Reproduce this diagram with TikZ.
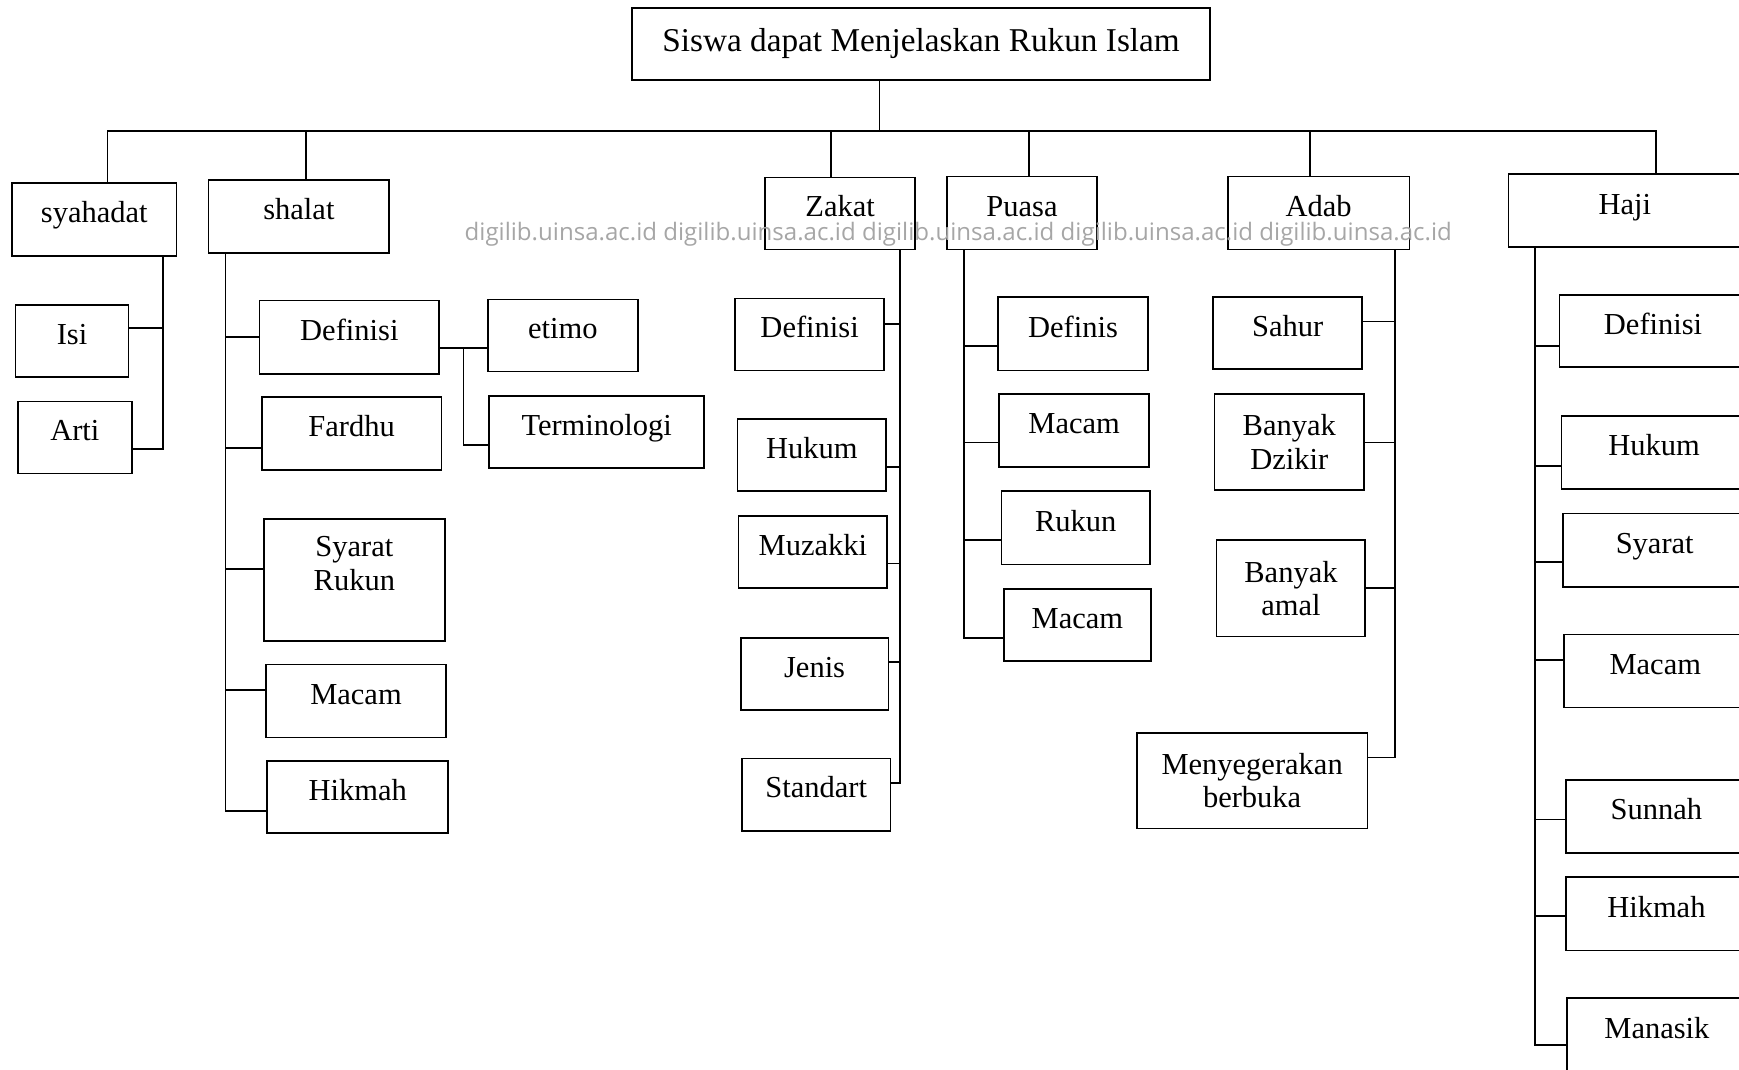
\documentclass[tikz,border=0pt]{standalone}
\usepackage{fontspec}
\setmainfont{Liberation Serif}
\newfontfamily\wmfont{Open Sans}

\begin{document}
\begin{tikzpicture}[x=1pt,y=-1pt,line width=1.5pt,
 box2/.style={draw,rectangle,inner sep=0pt,align=center,
   font=\fontsize{27.5}{30}\selectfont},
 box/.style={box2,text height=19pt,text depth=13pt},
 wm/.style={text=black!35,font=\wmfont\fontsize{21.7}{24}\selectfont}]

  \useasboundingbox (0,0) rectangle (1568,964);
  \clip (0,0) rectangle (1568,964);

  \node[box2,minimum width=521,minimum height=65,font=\fontsize{30}{34}\selectfont] (title) at (830.5,39.5) {Siswa dapat Menjelaskan Rukun Islam};

  % rukun
  \node[box,minimum width=148,minimum height=66] (syahadat) at (85,198) {syahadat};
  \node[box,minimum width=163,minimum height=66] (shalat) at (269.5,195) {shalat};
  \node[box,minimum width=135,minimum height=65] (zakat) at (757.5,192.5) {Zakat};
  \node[box,minimum width=135,minimum height=66] (puasa) at (921.5,192) {Puasa};
  \node[box,minimum width=164,minimum height=66] (adab) at (1189,192) {Adab};
  \node[box,minimum width=210,minimum height=66] (haji) at (1465,190) {Haji};

  % syahadat
  \node[box,minimum width=102,minimum height=65] (isi) at (65,307.5) {Isi};
  \node[box,minimum width=103,minimum height=65] (arti) at (67.5,394.5) {Arti};

  % shalat
  \node[box,minimum width=162,minimum height=66] (shDef) at (315,304) {Definisi};
  \node[box,minimum width=162,minimum height=66] (shFar) at (317,391) {Fardhu};
  \node[box2,minimum width=163,minimum height=110] (shSya) at (319.5,523) {Syarat\\Rukun\\\mbox{}};
  \node[box,minimum width=162,minimum height=66] (shMac) at (321,632) {Macam};
  \node[box,minimum width=163,minimum height=65] (shHik) at (322.5,718.5) {Hikmah};
  \node[box,minimum width=135,minimum height=65] (etimo) at (507.5,302.5) {etimo};
  \node[box,minimum width=194,minimum height=65] (termi) at (538,389.5) {Terminologi};

  % zakat
  \node[box,minimum width=134,minimum height=65] (zDef) at (730,301.5) {Definisi};
  \node[box,minimum width=134,minimum height=65] (zHuk) at (732,410.5) {Hukum};
  \node[box,minimum width=134,minimum height=65] (zMuz) at (733,497.5) {Muzakki};
  \node[box,minimum width=133,minimum height=65] (zJen) at (734.5,607.5) {Jenis};
  \node[box,minimum width=134,minimum height=65] (zSta) at (736,716.5) {Standart};

  % puasa
  \node[box,minimum width=135,minimum height=66] (pDef) at (967.5,301) {Definis};
  \node[box,minimum width=135,minimum height=66] (pMac) at (968.5,388) {Macam};
  \node[box,minimum width=134,minimum height=66] (pRuk) at (970,476) {Rukun};
  \node[box,minimum width=133,minimum height=65] (pMacb) at (971.5,563.5) {Macam};

  % adab
  \node[box,minimum width=134,minimum height=65] (aSah) at (1161,300.5) {Sahur};
  \node[box2,minimum width=135,minimum height=87] (aDzi) at (1162.5,398.5) {Banyak\\Dzikir};
  \node[box2,minimum width=134,minimum height=87] (aAma) at (1164,530.5) {Banyak\\amal};
  \node[box2,minimum width=208,minimum height=86] (aBuk) at (1129,704) {Menyegerakan\\berbuka};

  % haji
  \node[box,minimum width=169,minimum height=65] (hDef) at (1490.5,298.5) {Definisi};
  \node[box,minimum width=167,minimum height=66] (hHuk) at (1491.5,408) {Hukum};
  \node[box,minimum width=166,minimum height=66] (hSya) at (1492,496) {Syarat};
  \node[box,minimum width=165,minimum height=66] (hMac) at (1492.5,605) {Macam};
  \node[box,minimum width=163,minimum height=66] (hSun) at (1493.5,736) {Sunnah};
  \node[box,minimum width=163,minimum height=66] (hHik) at (1493.5,824) {Hikmah};
  \node[box,minimum width=162,minimum height=66] (hMan) at (1494,933) {Manasik};

  % lines
  \coordinate (bus) at (0,118);
  \draw ([xshift=-37.5pt]title.south) -- ([xshift=-37.5pt]title.south |- bus);
  \draw ([xshift=12pt]syahadat.north) |- ([xshift=28pt]haji.north |- bus) -- ([xshift=28pt]haji.north);
  \foreach \n/\dx in {shalat/6.5, zakat/-8.5, puasa/6.5, adab/-8}
    \draw ([xshift=\dx pt]\n.north) -- ([xshift=\dx pt]\n.north |- bus);

  \coordinate (syaSpine) at ([xshift=-13pt]syahadat.south east);
  \foreach \n/\y in {isi/296, arti/405}
    \draw (syaSpine) |- (\n.east |- 0,\y);

  \coordinate (shSpine) at ([xshift=16pt]shalat.south west);
  \foreach \n/\y in {shDef/304, shFar/404, shSya/513, shMac/622, shHik/731}
    \draw (shSpine) |- (\n.west |- 0,\y);
  \coordinate (defJoint) at (418,314);
  \draw (shDef.east |- defJoint) -- (etimo.west |- defJoint);
  \draw (defJoint) |- (termi.west |- 0,401);

  \coordinate (zSpine) at ([xshift=-14pt]zakat.south east);
  \foreach \n/\y in {zDef/292, zHuk/421, zMuz/508, zJen/597, zSta/706}
    \draw (zSpine) |- (\n.east |- 0,\y);

  \coordinate (pSpine) at ([xshift=16pt]puasa.south west);
  \foreach \n/\y in {pDef/312, pMac/399, pRuk/487, pMacb/575}
    \draw (pSpine) |- (\n.west |- 0,\y);

  \coordinate (aSpine) at ([xshift=-14pt]adab.south east);
  \foreach \n/\y in {aSah/290, aDzi/399, aAma/530, aBuk/683}
    \draw (aSpine) |- (\n.east |- 0,\y);

  \coordinate (hSpine) at ([xshift=25pt]haji.south west);
  \foreach \n/\y in {hDef/312, hHuk/420, hSya/507, hMac/595, hSun/739, hHik/826, hMan/942}
    \draw (hSpine) |- (\n.west |- 0,\y);

  \node[wm] (mark) at (864,211) {digilib.uinsa.ac.id digilib.uinsa.ac.id digilib.uinsa.ac.id digilib.uinsa.ac.id digilib.uinsa.ac.id};
\end{tikzpicture}
\end{document}
